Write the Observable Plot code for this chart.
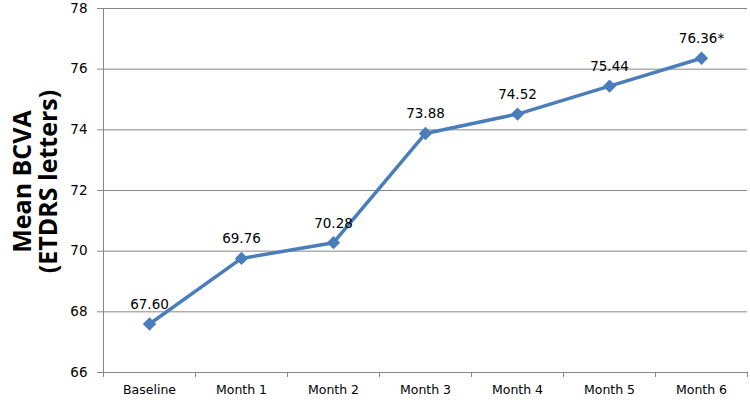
<!DOCTYPE html>
<html><head>
<meta charset="utf-8">
<script src="https://cdn.jsdelivr.net/npm/d3@7"></script>
<script src="https://cdn.jsdelivr.net/npm/@observablehq/plot@0.6"></script>
<style>body{margin:0;background:#fff}</style>
</head><body><div id="chart"></div>
<script>
const categories = ["Baseline", "Month 1", "Month 2", "Month 3", "Month 4", "Month 5", "Month 6"];
const values = [67.60, 69.76, 70.28, 73.88, 74.52, 75.44, 76.36];
const labels = ["67.60", "69.76", "70.28", "73.88", "74.52", "75.44", "76.36*"];
const yTicks = [66, 68, 70, 72, 74, 76, 78];
const yTitle = "Mean BCVA\n(ETDRS letters)";

const data = categories.map((c, i) => ({i, category: c, value: values[i], label: labels[i]}));
const boundaries = d3.range(categories.length + 1).map(i => i - 0.5);
const grid = "#868686";
const blue = "#4A7EBB";

const chart = Plot.plot({
  width: 750, height: 404,
  marginLeft: 103, marginRight: 3, marginTop: 8, marginBottom: 32,
  style: {fontFamily: "DejaVu Sans", fontSize: "12px", color: "#000", background: "#fff"},
  x: {domain: [-0.5, categories.length - 0.5]},
  y: {domain: [66, 78]},
  marks: [
    Plot.gridY(yTicks.slice(1), {stroke: grid, strokeOpacity: 1}),
    Plot.axisY(yTicks, {tickSize: 6, tickPadding: 10, stroke: grid, fontSize: 13.5, label: null}),
    Plot.ruleX([-0.5], {stroke: grid}),
    Plot.ruleY([66], {stroke: grid}),
    Plot.axisX(boundaries, {tickSize: 5, stroke: grid, tickFormat: () => "", label: null}),
    Plot.axisX(d3.range(categories.length), {tickSize: 0, tickPadding: 13, fontSize: 12.5, tickFormat: i => categories[i], label: null}),
    Plot.line(data, {x: "i", y: "value", stroke: blue, strokeWidth: 3.5}),
    Plot.dot(data, {x: "i", y: "value", symbol: "diamond2", r: 6, fill: blue, stroke: "none"}),
    Plot.text(data, {x: "i", y: "value", text: "label", dy: -15, lineAnchor: "bottom", fontSize: 13.5}),
    Plot.text([yTitle], {frameAnchor: "left", rotate: -90, dx: -68, dy: -9, fontSize: 25, fontWeight: "bold",
      fontFamily: "Open Sans", lineAnchor: "middle", textAnchor: "middle", lineHeight: 1.04})
  ]
});
document.getElementById("chart").appendChild(chart);
</script>
</body></html>
